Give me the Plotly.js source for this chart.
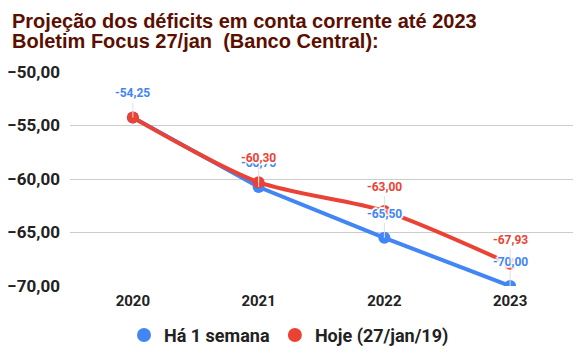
<!DOCTYPE html>
<html><head><meta charset="utf-8">
<script src="https://cdn.plot.ly/plotly-3.0.1.min.js"></script>
<style>html,body{margin:0;padding:0;background:#fff}</style>
</head><body>
<div id="chart" style="width:578px;height:353px"></div>
<script>
const years = ['2020', '2021', '2022', '2023'];
const semanaValues = [-54.25, -60.75, -65.50, -70.00];
const hojeValues = [-54.25, -60.30, -63.00, -67.93];
const semanaName = 'Há 1 semana';
const hojeName = 'Hoje (27/jan/19)';
const yTicks = [-50, -55, -60, -65, -70];
const titleLines = ['Projeção dos déficits em conta corrente até 2023', 'Boletim Focus 27/jan  (Banco Central):'];

const blue = '#4285f4', red = '#ea4335';
const fmt = v => v.toFixed(2).replace('.', ',');
const halo = '1px 1px 1px #fff, -1px -1px 1px #fff, 1px -1px 1px #fff, -1px 1px 1px #fff, 0 2px 1px #fff, 0 -2px 1px #fff, 2px 0 1px #fff, -2px 0 1px #fff';

const traces = [
  {x: years, y: semanaValues, name: semanaName, mode: 'lines+markers', type: 'scatter', showlegend: false,
   line: {color: blue, width: 4}, marker: {color: blue, size: 12}, cliponaxis: true},
  {x: years, y: hojeValues, name: hojeName, mode: 'lines+markers', type: 'scatter', showlegend: false,
   line: {color: red, width: 4, shape: 'spline', smoothing: 0.8}, marker: {color: red, size: 12}, cliponaxis: false},
  {x: [null], y: [null], name: semanaName, mode: 'markers', type: 'scatter', marker: {color: blue, size: 14}},
  {x: [null], y: [null], name: hojeName, mode: 'markers', type: 'scatter', marker: {color: red, size: 14}}
];

const annotations = [];
function addLabels(vals, color, skipFirst) {
  vals.forEach((v, i) => {
    if (skipFirst && i === 0) return;
    annotations.push({x: i, y: v, xref: 'x', yref: 'y', text: fmt(v),
      showarrow: true, arrowhead: 0, arrowwidth: 1, arrowcolor: '#e0e0e0', ax: 0, ay: -15,
      standoff: 0, yanchor: 'bottom',
      font: {family: 'Roboto, Arial, sans-serif', size: 12, color: color, weight: 'bold', shadow: halo}});
  });
}
addLabels(semanaValues, blue, false);
addLabels(hojeValues, red, true);

// title lines (plot area: top 72, bottom 286, left 70, width 503)
const titleFont = {family: 'Liberation Sans, Arial, sans-serif', size: 20, color: '#5b0f00', weight: 'bold'};
titleLines.forEach((t, k) => {
  annotations.push({text: t, xref: 'paper', yref: 'paper', x: (10 - 70) / 503, y: (286 - (21 + 20 * k)) / 214,
    xanchor: 'left', yanchor: 'middle', showarrow: false, font: titleFont});
});

const layout = {
  width: 578, height: 353,
  margin: {l: 70, r: 5, t: 72, b: 67},
  paper_bgcolor: '#fff', plot_bgcolor: '#fff',
  separators: ',.',
  xaxis: {type: 'category', range: [-0.5, 3.5], showgrid: false, zeroline: false, showline: false, ticks: '',
    ticklabelstandoff: 4,
    tickfont: {family: 'Roboto, Arial, sans-serif', size: 15, color: '#222', weight: 'bold'}},
  yaxis: {range: [-70, -50], tickvals: yTicks, tickformat: '.2f', showgrid: true, gridcolor: '#cccccc',
    zeroline: false, showline: false, ticks: '', ticklabelstandoff: 9,
    tickfont: {family: 'Roboto, Arial, sans-serif', size: 17, color: '#222', weight: 'bold'}},
  showlegend: true,
  legend: {orientation: 'h', x: 0.5, xanchor: 'center', xref: 'container', y: 0.05, yref: 'container', yanchor: 'middle',
    font: {family: 'Roboto, Arial, sans-serif', size: 18, color: '#222', weight: 'bold'}},
  annotations: annotations
};
Plotly.newPlot('chart', traces, layout, {displayModeBar: false, staticPlot: true});
</script>
</body></html>
